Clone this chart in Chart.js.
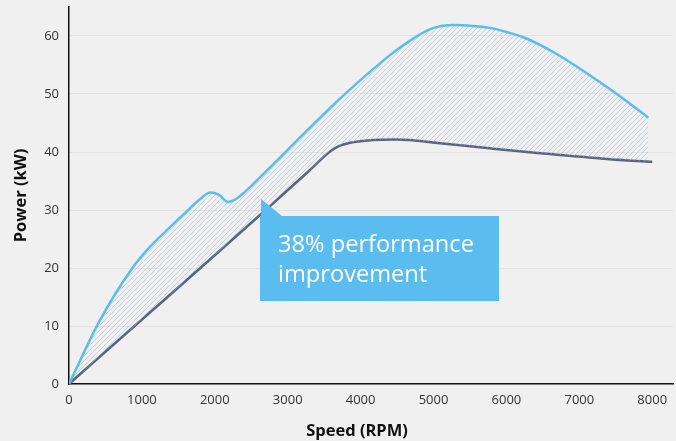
<!DOCTYPE html>
<html>
<head>
<meta charset="utf-8">
<script src="https://cdn.jsdelivr.net/npm/chart.js@4.4.1/dist/chart.umd.min.js"></script>
<style>
  html, body { margin: 0; padding: 0; background: #f0f0f0; }
  #wrap { width: 676px; height: 441px; position: relative; }
</style>
</head>
<body>
<div id="wrap"><canvas id="c" width="676" height="441"></canvas></div>
<script>
// ---- Data ----
const improvedRpm = [0, 425, 882, 1100, 1340, 1600, 1800, 1940, 2060, 2177, 2280, 2712, 3200, 3717, 4403, 4678, 4860, 5000, 5240, 5593, 5775, 6000, 6250, 6690, 7147, 7604, 7947];
const improvedKw  = [0, 11.0, 20.2, 23.5, 26.5, 29.6, 31.9, 33.0, 32.6, 31.4, 31.8, 36.8, 42.9, 49.2, 56.7, 59.2, 60.6, 61.4, 61.9, 61.7, 61.4, 60.7, 59.7, 56.9, 53.2, 49.2, 45.9];
const baseRpm = [0, 3306, 3580, 3717, 3855, 4100, 4500, 5089, 5800, 6461, 7376, 8000];
const baseKw  = [0, 36.9, 40.1, 41.1, 41.6, 42.0, 42.15, 41.5, 40.6, 39.8, 38.8, 38.3];
const xTicks = [0, 1000, 2000, 3000, 4000, 5000, 6000, 7000, 8000];
const yTicks = [0, 10, 20, 30, 40, 50, 60];
const annotationLines = ['38% performance', 'improvement'];
const xTitle = 'Speed (RPM)';
const yTitle = 'Power (kW)';

function pts(xs, ys) { return xs.map((x, i) => ({ x: x, y: ys[i] })); }

// hatch pattern
function makeHatch() {
  const s = 5;
  const c = document.createElement('canvas');
  c.width = s; c.height = s;
  const g = c.getContext('2d');
  g.strokeStyle = 'rgba(160,175,212,0.5)';
  g.lineWidth = 1;
  g.beginPath();
  g.moveTo(0, s); g.lineTo(s, 0);
  g.moveTo(-1, 1); g.lineTo(1, -1);
  g.moveTo(s - 1, s + 1); g.lineTo(s + 1, s - 1);
  g.stroke();
  return g.createPattern(c, 'repeat');
}

const FONT = "'Open Sans', 'DejaVu Sans', sans-serif";

const bgPlugin = {
  id: 'bg',
  beforeDraw(chart) {
    const ctx = chart.ctx;
    ctx.save();
    ctx.fillStyle = '#f0f0f0';
    ctx.fillRect(0, 0, chart.width, chart.height);
    ctx.restore();
  }
};

const overlayPlugin = {
  id: 'overlay',
  afterDraw(chart) {
    const ctx = chart.ctx;
    ctx.save();
    // x-axis title
    ctx.fillStyle = '#111';
    ctx.font = "bold 16.5px " + FONT;
    ctx.textAlign = 'center';
    ctx.textBaseline = 'middle';
    ctx.fillText(xTitle, 357, 431);

    // annotation callout
    const bx = 260, by = 216, bw = 239, bh = 85;
    ctx.fillStyle = '#5bbdef';
    ctx.beginPath();
    ctx.moveTo(261, 199);
    ctx.lineTo(282, by);
    ctx.lineTo(bx + bw, by);
    ctx.lineTo(bx + bw, by + bh);
    ctx.lineTo(bx, by + bh);
    ctx.lineTo(bx, by);
    ctx.lineTo(261, by);
    ctx.closePath();
    ctx.fill();

    ctx.fillStyle = '#ffffff';
    ctx.textAlign = 'left';
    ctx.textBaseline = 'alphabetic';
    let size = 21;
    ctx.font = size + "px " + FONT;
    const w = ctx.measureText(annotationLines[0]).width;
    size = size * 196 / w;
    ctx.font = size + "px " + FONT;
    ctx.fillText(annotationLines[0], 278, 252);
    ctx.fillText(annotationLines[1], 278, 282);
    ctx.restore();
  }
};

function zeroPad(scale) {
  scale.paddingTop = 0; scale.paddingBottom = 0;
  scale.paddingLeft = 0; scale.paddingRight = 0;
}

const ctx = document.getElementById('c').getContext('2d');
new Chart(ctx, {
  type: 'line',
  data: {
    datasets: [
      {
        label: 'Improved',
        data: pts(improvedRpm, improvedKw),
        borderColor: '#5bbdef',
        borderWidth: 2.5,
        pointRadius: 0,
        cubicInterpolationMode: 'monotone',
        fill: { target: 1 },
        backgroundColor: makeHatch()
      },
      {
        label: 'Baseline',
        data: pts(baseRpm, baseKw),
        borderColor: '#5a6381',
        borderWidth: 2.5,
        pointRadius: 0,
        cubicInterpolationMode: 'monotone',
        fill: false
      }
    ]
  },
  options: {
    responsive: false,
    animation: false,
    events: [],
    layout: { autoPadding: false, padding: { top: 7, right: 3, left: 0, bottom: 0 } },
    plugins: {
      legend: { display: false },
      tooltip: { enabled: false }
    },
    scales: {
      x: {
        type: 'linear',
        min: 0,
        max: 8285,
        afterBuildTicks(scale) { scale.ticks = xTicks.map(v => ({ value: v })); },
        afterFit(scale) { scale.height = 57; zeroPad(scale); },
        ticks: {
          color: '#333',
          font: { family: FONT, size: 13 },
          padding: 8,
          maxRotation: 0,
          autoSkip: false,
          callback: (v) => String(v)
        },
        grid: { color: 'rgba(0,0,0,0)', drawTicks: false },
        border: { display: true, color: '#111', width: 1.5 }
      },
      y: {
        min: 0,
        max: 65,
        afterBuildTicks(scale) { scale.ticks = yTicks.map(v => ({ value: v })); },
        afterFit(scale) { scale.width = 69; zeroPad(scale); },
        ticks: {
          color: '#333',
          font: { family: FONT, size: 13 },
          padding: 10,
          callback: (v) => String(v)
        },
        grid: { color: '#e3e3e3', lineWidth: 1, drawTicks: false },
        border: { display: true, color: '#111', width: 1.5 },
        title: {
          display: true,
          text: yTitle,
          color: '#111',
          font: { family: FONT, size: 16.5, weight: 'bold' },
          padding: { top: 11, bottom: 0 }
        }
      }
    }
  },
  plugins: [bgPlugin, overlayPlugin]
});
</script>
</body>
</html>
